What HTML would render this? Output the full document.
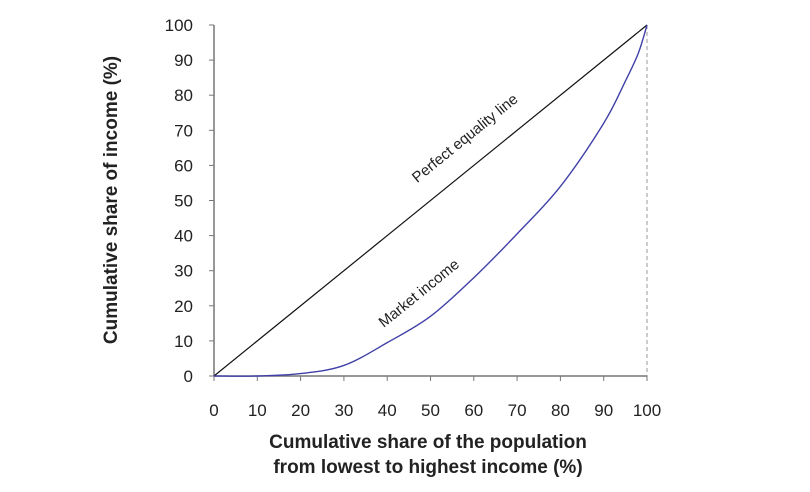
<!DOCTYPE html>
<html><head><meta charset="utf-8"><style>
body{margin:0;background:#fff;font-family:"Liberation Sans",sans-serif}
</style></head><body>
<svg width="810" height="487" id="c" font-family="Liberation Sans, sans-serif">
</svg>
<script>
const popShare=[0,10,20,30,40,50,60,70,80,90,95,98,100];
const marketIncome=[0,0,0.7,3,9.5,17,28,40.5,54,72,84,92,100];
const equalityX=[0,100];
const equalityY=[0,100];
const xTicks=[0,10,20,30,40,50,60,70,80,90,100];
const yTicks=[0,10,20,30,40,50,60,70,80,90,100];
const svg=document.getElementById('c');
const NS='http://www.w3.org/2000/svg';
const X=v=>214+v*4.33, Y=v=>376-v*3.51;
function mk(t,a,p){const e=document.createElementNS(NS,t);for(const k in a)e.setAttribute(k,a[k]);(p||svg).appendChild(e);return e;}
let d=mk('line',{x1:X(100),x2:X(100),y1:Y(100),y2:Y(0),stroke:'#999','stroke-dasharray':'4,3','stroke-width':1});


let ax=mk('line',{x1:X(0),x2:X(100),y1:Y(0),y2:Y(0),stroke:'#777','stroke-width':1.5});


let ay=mk('line',{x1:X(0),x2:X(0),y1:Y(0),y2:Y(100),stroke:'#777','stroke-width':1.5});


xTicks.forEach(t=>{
 const l=mk('line',{x1:X(t),x2:X(t),y1:Y(0),y2:Y(0)+5,stroke:'#777'});
 
 
 const tx=mk('text',{x:X(t),y:416,'text-anchor':'middle','font-size':17,fill:'#222'});tx.textContent=t;
 
 
});
yTicks.forEach(t=>{
 const l=mk('line',{x1:X(0)-5,x2:X(0),y1:Y(t),y2:Y(t),stroke:'#777'});
 
 
 const tx=mk('text',{x:193,y:Y(t)+6,'text-anchor':'end','font-size':17,fill:'#222'});tx.textContent=t;
 
 
});
let eq=mk('polyline',{points:equalityX.map((v,i)=>X(v)+','+Y(equalityY[i])).join(' '),fill:'none',stroke:'#111','stroke-width':1.2});


const P=popShare.map((v,i)=>[X(v),Y(marketIncome[i])]);
let dp='M'+P[0][0]+','+P[0][1];
for(let i=0;i<P.length-1;i++){
 const p0=P[i-1]||P[i],p1=P[i],p2=P[i+1],p3=P[i+2]||P[i+1];
 const c1=[p1[0]+(p2[0]-p0[0])/6,p1[1]+(p2[1]-p0[1])/6];
 const c2=[p2[0]-(p3[0]-p1[0])/6,p2[1]-(p3[1]-p1[1])/6];
 dp+=' C'+c1.join(',')+' '+c2.join(',')+' '+p2.join(',');
}
let mi=mk('path',{d:dp,fill:'none',stroke:'#4040a8','stroke-width':1.4});


let t1=mk('text',{x:0,y:0,transform:'translate(468,142) rotate(-39)','text-anchor':'middle','font-size':15,fill:'#222'});t1.textContent='Perfect equality line';


let t2=mk('text',{x:0,y:0,transform:'translate(422,297) rotate(-39)','text-anchor':'middle','font-size':15,fill:'#222'});t2.textContent='Market income';


let yt=mk('text',{x:0,y:0,transform:'translate(117,200) rotate(-90)','text-anchor':'middle','font-size':19,'font-weight':'bold',fill:'#222'});yt.textContent='Cumulative share of income (%)';


let xt1=mk('text',{x:428,y:448,'text-anchor':'middle','font-size':19,'font-weight':'bold',fill:'#222'});xt1.textContent='Cumulative share of the population';


let xt2=mk('text',{x:428,y:473,'text-anchor':'middle','font-size':19,'font-weight':'bold',fill:'#222'});xt2.textContent='from lowest to highest income (%)';


</script>
</body></html>
